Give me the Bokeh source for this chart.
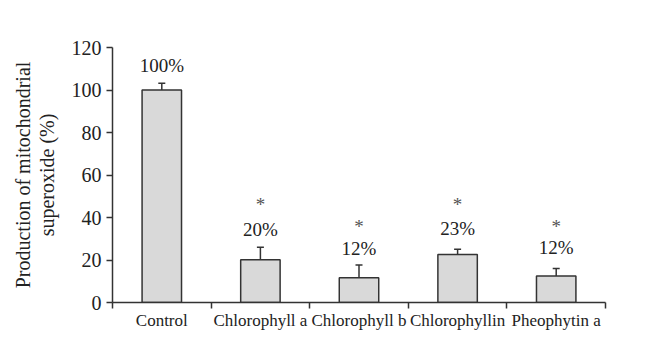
from bokeh.plotting import figure
from bokeh.models import Range1d, FixedTicker, ColumnDataSource, Whisker, TeeHead
from bokeh.core.properties import value
from bokeh.embed import file_html
from bokeh.resources import INLINE

categories = ["Control", "Chlorophyll a", "Chlorophyll b", "Chlorophyllin", "Pheophytin a"]
values = [100, 20.1, 11.6, 22.6, 12.5]
errors = [3.2, 5.9, 6.0, 2.5, 3.5]
pct_labels = ["100%", "20%", "12%", "23%", "12%"]
pct_y = [111.5, 34.2, 25.4, 34.8, 26.0]
stars = ["", "*", "*", "*", "*"]
star_y = [0, 46.0, 35.8, 46.0, 35.8]
y_ticks = [0, 20, 40, 60, 80, 100, 120]

FONT = "Liberation Serif"
xs = [i + 0.5 for i in range(len(categories))]

p = figure(width=650, height=339, output_backend="svg", toolbar_location=None,
           x_range=Range1d(0, 5), y_range=Range1d(0, 120),
           min_border_left=112, min_border_right=45, min_border_top=47, min_border_bottom=37)
p.outline_line_color = None
p.grid.grid_line_color = None
p.background_fill_color = "white"
p.border_fill_color = "white"

src = ColumnDataSource(dict(x=xs, top=values, up=[v + e for v, e in zip(values, errors)]))
p.vbar(x="x", top="top", bottom=0, width=0.4, source=src,
       fill_color="#d9d9d9", line_color="#333333", line_width=1.5)
w = Whisker(base="x", upper="up", lower="top", source=src, line_color="#333333", line_width=1.5,
            upper_head=TeeHead(size=7, line_color="#333333", line_width=1.5), lower_head=None)
p.add_layout(w)

p.text(x=xs, y=pct_y, text=pct_labels, text_align="center", text_baseline="middle",
       text_font=value(FONT), text_font_size="19px", text_color="#222222")
p.text(x=xs[1:], y=star_y[1:], text=stars[1:], text_align="center", text_baseline="middle",
       text_font=value(FONT), text_font_size="19px", text_color="#555555")

# x axis
p.xaxis.ticker = FixedTicker(ticks=xs, minor_ticks=[0, 1, 2, 3, 4, 5])
p.xaxis.major_label_overrides = {x: c for x, c in zip(xs, categories)}
p.xaxis.major_tick_out = 0
p.xaxis.major_tick_in = 0
p.xaxis.minor_tick_out = 6
p.xaxis.minor_tick_in = 0
p.xaxis.minor_tick_line_color = "#333333"
p.xaxis.axis_line_color = "#333333"
p.xaxis.axis_line_width = 1.5
p.xaxis.minor_tick_line_width = 1.5
p.xaxis.major_label_text_font = FONT
p.xaxis.major_label_text_font_size = "17px"
p.xaxis.major_label_text_color = "#222222"
p.xaxis.major_label_standoff = 2

# y axis
p.yaxis.ticker = FixedTicker(ticks=y_ticks)
p.yaxis.major_tick_out = 6
p.yaxis.major_tick_in = 0
p.yaxis.minor_tick_line_color = None
p.yaxis.axis_line_color = "#333333"
p.yaxis.axis_line_width = 1.5
p.yaxis.major_tick_line_color = "#333333"
p.yaxis.major_tick_line_width = 1.5
p.yaxis.major_label_text_font = FONT
p.yaxis.major_label_text_font_size = "20px"
p.yaxis.major_label_text_color = "#222222"
p.yaxis.major_label_standoff = 5
p.yaxis.axis_label = "Production of mitochondrial\nsuperoxide (%)"
p.yaxis.axis_label_text_font = FONT
p.yaxis.axis_label_text_font_size = "20px"
p.yaxis.axis_label_text_font_style = "normal"
p.yaxis.axis_label_text_color = "#222222"
p.yaxis.axis_label_text_line_height = 1.05
p.yaxis.axis_label_standoff = 11

open("out.html", "w").write(file_html(p, INLINE))
